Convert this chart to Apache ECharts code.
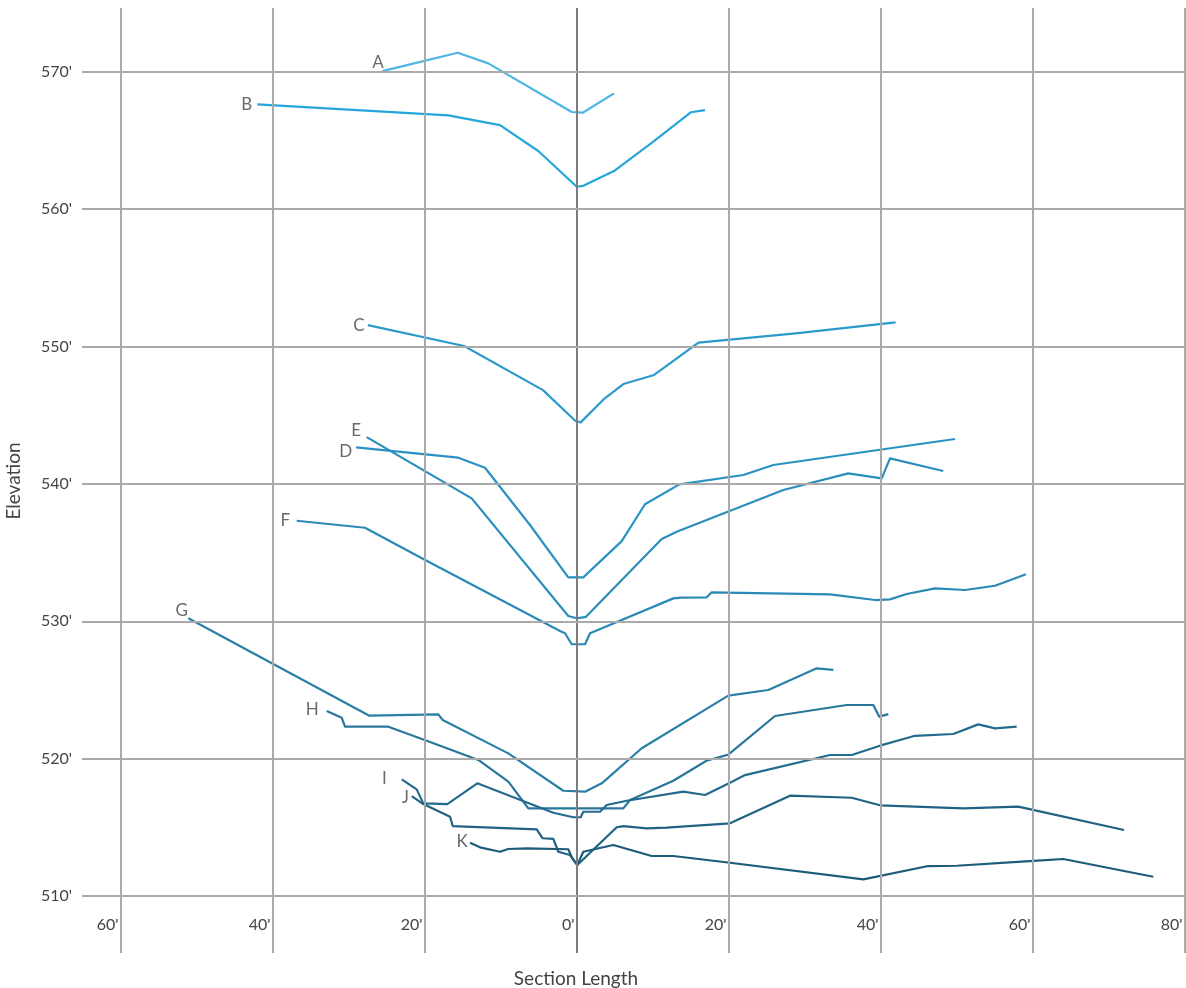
<!DOCTYPE html>
<html>
<head>
<meta charset="utf-8">
<script src="https://cdn.jsdelivr.net/npm/echarts@6/dist/echarts.min.js"></script>
<style>
  html, body { margin: 0; padding: 0; background: #ffffff; }
  #chart { width: 1186px; height: 988px; }
</style>
</head>
<body>
<div id="chart"></div>
<script>
// ---- data (section length in feet, elevation in feet) ----
const X_TICKS = [-60, -40, -20, 0, 20, 40, 60, 80];
const Y_TICKS = [510, 520, 530, 540, 550, 560, 570];
const SECTION_NAMES = ['A', 'B', 'C', 'D', 'E', 'F', 'G', 'H', 'I', 'J', 'K'];

const A = [[-25.55, 570.05], [-15.63, 571.38], [-11.61, 570.61], [-0.63, 567.07], [0.82, 567.02], [4.93, 568.43]];
const B = [[-42.0, 567.63], [-16.87, 566.83], [-10.07, 566.12], [-5.03, 564.23], [0.03, 561.63], [0.89, 561.70],
           [4.93, 562.77], [10.11, 564.91], [15.03, 567.05], [16.91, 567.21]];
const C = [[-27.46, 551.56], [-14.79, 550.04], [-4.41, 546.83], [-0.17, 544.60], [0.55, 544.48], [3.72, 546.23],
           [6.16, 547.27], [10.21, 547.93], [16.05, 550.28], [28.83, 550.96], [41.99, 551.76]];
const D = [[-29.01, 542.66], [-15.55, 541.91], [-12.04, 541.18], [-6.12, 537.01], [-1.08, 533.20], [0.89, 533.20],
           [5.95, 535.84], [9.01, 538.52], [13.53, 539.97], [21.95, 540.65], [25.89, 541.38], [49.80, 543.27]];
const E = [[-27.61, 543.41], [-13.79, 538.95], [-1.08, 530.39], [0.03, 530.22], [1.25, 530.33], [11.21, 535.99],
           [13.18, 536.52], [27.21, 539.56], [35.76, 540.77], [40.16, 540.41], [41.25, 541.86], [48.26, 540.94]];
const F = [[-36.82, 537.32], [-27.83, 536.81], [-20.16, 534.53], [-2.17, 529.29], [-1.51, 529.13], [-0.63, 528.33],
           [1.12, 528.33], [1.78, 529.13], [12.74, 531.67], [13.84, 531.72], [17.13, 531.75], [17.79, 532.11],
           [33.36, 531.96], [39.28, 531.55], [41.25, 531.60], [43.45, 531.99], [47.17, 532.40], [51.12, 532.28],
           [55.07, 532.59], [59.14, 533.42]];
const G = [[-51.08, 530.22], [-27.26, 523.13], [-18.18, 523.23], [-17.61, 522.82], [-8.97, 520.39], [-1.74, 517.67],
           [1.12, 517.60], [3.32, 518.21], [8.58, 520.76], [19.97, 524.59], [25.24, 525.00], [31.61, 526.58],
           [33.79, 526.46]];
const H = [[-32.87, 523.47], [-30.89, 522.98], [-30.46, 522.33], [-24.76, 522.33], [-19.71, 521.31], [-12.92, 519.91],
           [-8.97, 518.33], [-6.34, 516.39], [6.16, 516.39], [7.04, 517.00], [12.74, 518.40], [17.1, 519.85],
           [19.97, 520.30], [26.12, 523.11], [35.55, 523.91], [39.05, 523.91], [39.84, 523.06], [41.03, 523.25]];
const I = [[-23.0, 518.50], [-21.03, 517.77], [-20.16, 516.75], [-17.0, 516.70], [-13.05, 518.21], [-3.05, 516.07],
           [-0.42, 515.74], [0.55, 515.74], [0.89, 516.14], [3.09, 516.14], [3.97, 516.63], [6.61, 516.94],
           [14.05, 517.60], [16.91, 517.36], [20.20, 518.25], [22.17, 518.81], [33.36, 520.27], [36.21, 520.27],
           [39.93, 520.95], [44.54, 521.67], [49.58, 521.80], [52.86, 522.50], [55.07, 522.21], [57.92, 522.33]];
const J = [[-21.68, 517.28], [-20.16, 516.70], [-16.64, 515.78], [-16.29, 515.10], [-5.24, 514.86], [-4.45, 514.21],
           [-3.05, 514.16], [-2.39, 513.23], [-0.86, 512.99], [0.11, 512.26], [5.29, 515.01], [6.16, 515.10],
           [9.24, 514.93], [11.87, 514.98], [20.20, 515.30], [28.09, 517.31], [36.21, 517.16], [39.93, 516.61],
           [50.89, 516.39], [58.13, 516.51], [72.04, 514.81]];
const K = [[-14.01, 513.89], [-12.70, 513.55], [-10.07, 513.23], [-8.97, 513.43], [-6.55, 513.48], [-1.08, 513.41],
           [-0.6, 512.80], [0.11, 512.26], [0.89, 513.23], [4.84, 513.72], [9.89, 512.92], [12.74, 512.92],
           [20.20, 512.43], [37.74, 511.22], [46.29, 512.19], [50.03, 512.21], [60.11, 512.56], [64.05, 512.70],
           [75.89, 511.41]];

const SECTIONS = [A, B, C, D, E, F, G, H, I, J, K];

// ---- styling ----
const COLORS = ['#4cb5e4', '#25a6db', '#2b9acb', '#2a92c2', '#2a8ebd', '#2a89b5', '#2a7fa6', '#28769c',
                '#236a8d', '#1f6283', '#1d5b7a'];
const LABEL_OFFSETS = {
  A: [2, -9], B: [-4.6, 0], C: [-2.6, 0], D: [-3.3, 4.4], E: [-5, -6.3], F: [-6, 0],
  G: [0, -7.6], H: [-7.4, -1.7], I: [-14.4, -1], J: [-2.4, 1.3], K: [-1.7, -1]
};
const FONT = 'Lato, "Open Sans", sans-serif';
const TEXT_COLOR = '#444444';

const chart = echarts.init(document.getElementById('chart'), null, { renderer: 'canvas' });

const gridLines = [];
X_TICKS.forEach(v => gridLines.push({
  xAxis: v,
  lineStyle: { color: v === 0 ? '#7d7d7d' : '#aaaaaa', width: 2, type: 'solid' }
}));
Y_TICKS.forEach(v => gridLines.push({
  yAxis: v,
  lineStyle: { color: '#aaaaaa', width: 2, type: 'solid' }
}));

const series = [{
  type: 'line',
  name: 'grid',
  data: [],
  silent: true,
  z: 1,
  markLine: {
    silent: true,
    symbol: ['none', 'none'],
    label: { show: false },
    animation: false,
    emphasis: { disabled: true },
    data: gridLines
  }
}];

SECTION_NAMES.forEach((name, i) => {
  series.push({
    type: 'line',
    name: name,
    data: SECTIONS[i],
    showSymbol: false,
    symbol: 'none',
    z: 3,
    lineStyle: { color: COLORS[i], width: 2.2, join: 'round' },
    itemStyle: { color: COLORS[i] },
    animation: false
  });
});

series.push({
  type: 'scatter',
  name: 'labels',
  z: 4,
  symbolSize: 1,
  itemStyle: { color: 'rgba(0,0,0,0)' },
  silent: true,
  data: SECTION_NAMES.map((name, i) => ({
    name: name,
    value: SECTIONS[i][0],
    label: {
      show: true,
      formatter: name,
      position: 'left',
      distance: 0,
      offset: LABEL_OFFSETS[name],
      color: TEXT_COLOR,
      fontFamily: FONT,
      fontSize: 17
    }
  })),
  animation: false
});

const option = {
  backgroundColor: '#ffffff',
  animation: false,
  grid: { left: 82, right: 0, top: 8, bottom: 35, containLabel: false },
  xAxis: {
    type: 'value',
    min: -65.07,
    max: 80.2,
    offset: -44,
    axisLine: { show: false },
    axisTick: { show: false },
    splitLine: { show: false },
    axisLabel: {
      customValues: X_TICKS,
      formatter: v => Math.abs(v) + "'",
      align: 'right',
      padding: [0, 2, 0, 0],
      margin: 8,
      color: TEXT_COLOR,
      fontFamily: FONT,
      fontSize: 16,
      showMinLabel: true,
      showMaxLabel: true
    }
  },
  yAxis: {
    type: 'value',
    min: 505.86,
    max: 574.64,
    axisLine: { show: false },
    axisTick: { show: false },
    splitLine: { show: false },
    axisLabel: {
      customValues: Y_TICKS,
      formatter: v => v + "'",
      margin: 10,
      color: TEXT_COLOR,
      fontFamily: FONT,
      fontSize: 16
    }
  },
  graphic: [
    {
      type: 'text',
      x: 576,
      y: 979,
      style: {
        text: 'Section Length',
        fill: TEXT_COLOR,
        font: '19px ' + FONT,
        textAlign: 'center',
        textVerticalAlign: 'middle'
      }
    },
    {
      type: 'text',
      x: 14,
      y: 481,
      rotation: Math.PI / 2,
      style: {
        text: 'Elevation',
        fill: TEXT_COLOR,
        font: '19px ' + FONT,
        textAlign: 'center',
        textVerticalAlign: 'middle'
      }
    }
  ],
  series: series
};

chart.setOption(option);
</script>
</body>
</html>
